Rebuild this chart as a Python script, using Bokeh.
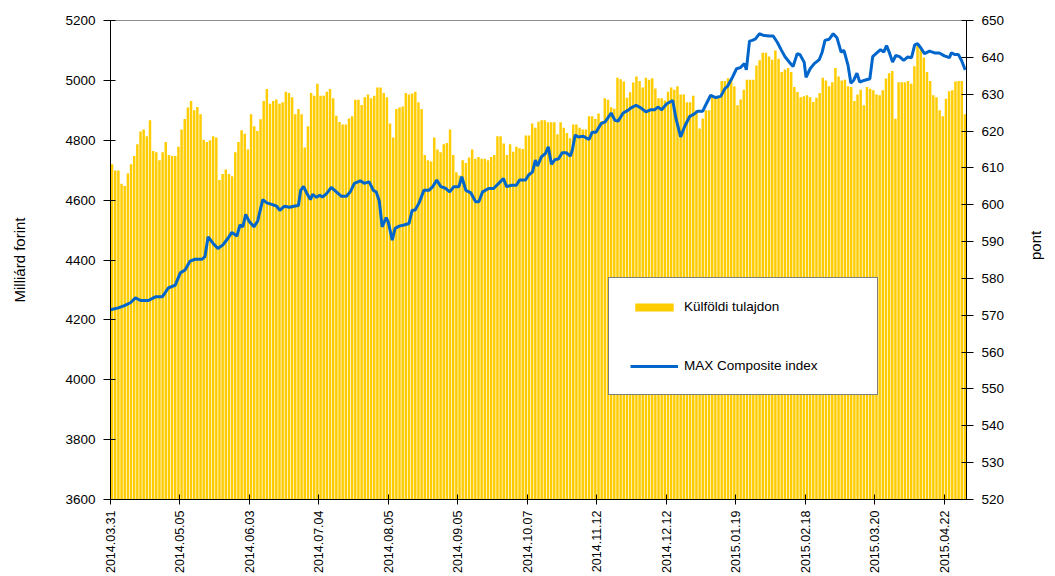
import math
from bokeh.plotting import figure
from bokeh.models import Range1d, LinearAxis, FixedTicker, Legend, LegendItem, ColumnDataSource
from bokeh.embed import file_html
from bokeh.resources import INLINE

# ---- data ----
tick_labels = ["2014.03.31", "2014.05.05", "2014.06.03", "2014.07.04", "2014.08.05",
               "2014.09.05", "2014.10.07", "2014.11.12", "2014.12.12", "2015.01.19",
               "2015.02.18", "2015.03.20", "2015.04.22"]
tick_days = [0, 22, 44, 66, 88, 110, 132, 154, 176, 198, 220, 242, 264]

# Külföldi tulajdon (Milliárd forint), one value per trading day
foreign_holdings = [
    4720, 4699, 4699, 4655, 4647, 4689, 4720, 4747, 4787, 4829,
    4836, 4813, 4867, 4764, 4760, 4733, 4760, 4794, 4751, 4747,
    4747, 4778, 4836, 4871, 4909, 4931, 4900, 4911, 4887, 4802,
    4794, 4800, 4813, 4809, 4667, 4687, 4702, 4687, 4680, 4760,
    4794, 4833, 4822, 4769, 4887, 4847, 4831, 4870, 4931, 4971,
    4922, 4931, 4936, 4922, 4927, 4962, 4958, 4944, 4887, 4904,
    4887, 4776, 4847, 4958, 4949, 4989, 4949, 4949, 4962, 4971,
    4940, 4882, 4861, 4853, 4853, 4873, 4880, 4935, 4935, 4918,
    4944, 4953, 4940, 4949, 4976, 4976, 4958, 4944, 4856, 4809,
    4904, 4909, 4913, 4958, 4953, 4956, 4962, 4927, 4904, 4751,
    4733, 4729, 4809, 4769, 4760, 4787, 4791, 4836, 4751, 4693,
    4682, 4733, 4724, 4742, 4769, 4738, 4744, 4738, 4738, 4733,
    4744, 4751, 4813, 4813, 4789, 4751, 4787, 4762, 4778, 4773,
    4771, 4816, 4816, 4856, 4842, 4862, 4867, 4867, 4860, 4860,
    4860, 4820, 4860, 4842, 4824, 4807, 4853, 4853, 4842, 4836,
    4836, 4880, 4880, 4871, 4889, 4864, 4940, 4935, 4910, 4905,
    5009, 5004, 4996, 4942, 4960, 4993, 5013, 4998, 4976, 5009,
    5002, 5007, 4973, 4940, 4940, 4933, 4962, 4976, 4969, 4980,
    4953, 4953, 4927, 4927, 4949, 4900, 4839, 4873, 4900, 4900,
    4947, 4947, 4947, 4998, 4998, 5007, 5006, 4980, 4917, 4936,
    4969, 5002, 5002, 5002, 5050, 5067, 5092, 5092, 5080, 5069,
    5100, 5072, 5028, 5036, 5041, 5028, 4978, 4961, 4944, 4947,
    4950, 4944, 4928, 4942, 4958, 5009, 5000, 4980, 4994, 5041,
    5013, 5000, 5002, 4980, 4978, 4931, 4953, 4969, 4917, 4978,
    4972, 4967, 4953, 4950, 4967, 5006, 5024, 5031, 4872, 4994,
    4994, 4994, 4998, 4989, 5047, 5122, 5106, 5076, 5028, 4998,
    4950, 4944, 4900, 4880, 4939, 4964, 4967, 4996, 4998, 4998,
    4887,
]

# MAX Composite index (pont): day position and value
max_day = [
    0.0, 2.5, 4.4, 6.3, 7.9, 9.5, 12.0, 14.2, 16.4, 18.3,
    20.5, 22.1, 23.6, 25.2, 26.8, 29.0, 29.9, 30.9, 32.5, 34.0,
    35.6, 37.2, 38.4, 40.0, 41.0, 41.9, 42.8, 43.8, 45.4, 46.6,
    48.2, 49.5, 51.0, 52.6, 53.6, 55.1, 56.7, 58.0, 59.5, 60.2,
    61.1, 62.1, 63.3, 64.0, 65.2, 66.2, 67.1, 68.4, 69.9, 71.5,
    73.1, 74.7, 75.9, 77.2, 79.1, 80.3, 81.9, 83.2, 84.1, 85.1,
    86.0, 87.3, 87.9, 89.2, 90.1, 91.4, 92.9, 94.5, 95.5, 96.4,
    97.7, 99.2, 100.8, 102.1, 103.3, 104.6, 106.2, 107.4, 108.7, 110.3,
    111.2, 112.5, 114.1, 115.6, 116.6, 117.8, 119.7, 121.3, 122.9, 124.4,
    125.4, 127.0, 128.5, 129.5, 131.4, 132.3, 133.6, 134.5, 135.2, 136.4,
    137.7, 138.6, 139.6, 140.8, 141.8, 143.0, 144.3, 145.6, 146.2, 147.1,
    148.1, 149.7, 151.5, 152.5, 153.7, 155.3, 156.6, 158.5, 159.7, 160.7,
    162.3, 163.8, 164.8, 166.4, 167.9, 169.5, 171.1, 172.3, 173.3, 174.5,
    176.1, 178.0, 179.0, 180.5, 181.8, 183.4, 184.6, 185.9, 187.5, 188.4,
    190.0, 191.6, 193.2, 194.5, 195.3, 196.9, 198.2, 199.4, 200.7, 201.3,
    202.3, 203.2, 204.2, 205.4, 207.0, 208.6, 209.8, 211.1, 212.3, 213.6,
    215.2, 216.1, 217.4, 218.3, 219.6, 220.2, 221.5, 222.8, 224.4, 225.3,
    226.2, 227.5, 228.8, 230.0, 231.3, 232.2, 233.5, 234.4, 235.3, 236.3,
    237.2, 238.8, 240.4, 241.3, 242.6, 243.8, 244.8, 245.7, 246.7, 247.6,
    248.6, 249.8, 251.1, 252.4, 253.6, 254.6, 255.5, 256.5, 257.7, 259.3,
    260.9, 262.4, 264.0, 265.6, 266.2, 267.2, 268.4, 269.4, 270.6,
]
max_index = [
    571.5, 572.0, 572.6, 573.4, 574.7, 574.0, 574.0, 575.0, 575.0, 577.4,
    578.2, 581.5, 582.3, 584.7, 585.2, 585.2, 585.9, 591.3, 589.5, 588.1,
    589.1, 590.9, 592.5, 591.5, 594.5, 594.0, 597.4, 595.6, 594.0, 595.6,
    601.4, 600.5, 600.1, 599.6, 598.5, 599.6, 599.3, 599.6, 599.8, 603.9,
    605.0, 603.2, 601.4, 602.8, 602.0, 602.6, 602.1, 603.0, 604.7, 603.5,
    602.3, 602.3, 603.5, 605.8, 606.5, 605.8, 606.2, 603.9, 603.5, 601.0,
    594.0, 596.5, 595.4, 590.4, 593.6, 594.2, 594.5, 594.9, 598.5, 598.5,
    600.5, 603.9, 603.9, 605.0, 606.7, 604.9, 604.4, 603.5, 604.9, 604.9,
    607.6, 603.9, 603.2, 600.8, 600.8, 603.5, 604.4, 604.4, 605.8, 607.1,
    604.9, 605.3, 605.3, 606.7, 606.7, 608.0, 608.9, 612.1, 610.5, 613.0,
    613.9, 615.7, 611.0, 612.3, 612.4, 614.1, 614.1, 613.2, 614.8, 618.9,
    618.4, 618.6, 617.7, 619.7, 619.7, 622.0, 622.5, 624.9, 622.9, 622.7,
    624.9, 625.6, 626.3, 627.0, 626.3, 625.2, 625.8, 625.8, 626.5, 625.8,
    627.4, 628.3, 623.5, 618.4, 621.3, 624.0, 624.5, 625.4, 625.4, 627.0,
    629.7, 629.1, 629.4, 631.5, 632.1, 634.6, 636.9, 637.2, 638.3, 636.6,
    644.4, 644.6, 645.0, 646.4, 645.9, 645.8, 645.8, 644.1, 642.1, 640.1,
    638.4, 637.5, 641.0, 640.7, 638.7, 634.6, 636.9, 638.3, 639.4, 641.4,
    644.6, 644.9, 646.4, 645.3, 641.4, 641.9, 637.8, 633.0, 633.8, 635.7,
    633.3, 633.8, 634.2, 640.2, 641.2, 642.1, 641.4, 643.2, 641.0, 638.7,
    640.5, 640.2, 639.2, 640.1, 639.9, 643.4, 643.7, 642.6, 641.0, 641.7,
    641.2, 641.2, 640.4, 639.9, 641.2, 640.8, 640.8, 639.2, 636.6,
]

left_ticks = [3600, 3800, 4000, 4200, 4400, 4600, 4800, 5000, 5200]
right_ticks = [520, 530, 540, 550, 560, 570, 580, 590, 600, 610, 620, 630, 640, 650]

# ---- figure ----
N = len(foreign_holdings)
FONT = "Liberation Sans"

p = figure(width=1055, height=576, output_backend="svg", toolbar_location=None,
           x_range=Range1d(0, N), y_range=Range1d(3600, 5200),
           min_border_left=110, min_border_right=85, min_border_top=20, min_border_bottom=76,
           background_fill_color="white", border_fill_color="white")
p.grid.visible = False
p.outline_line_color = "#8c8c8c"
p.outline_line_width = 1

bar_src = ColumnDataSource(dict(x=[i + 0.5 for i in range(N)], top=foreign_holdings))
bars = p.vbar(x="x", top="top", bottom=3600, width=0.78, source=bar_src,
              fill_color="#FFCC00", line_color=None)

p.extra_y_ranges = {"idx": Range1d(520, 650)}
line_src = ColumnDataSource(dict(x=max_day, y=max_index))
line = p.line(x="x", y="y", source=line_src, y_range_name="idx",
              line_color="#0066CC", line_width=3)

# x axis
xa = p.xaxis[0]
xa.ticker = FixedTicker(ticks=tick_days)
xa.major_label_overrides = {d: lab for d, lab in zip(tick_days, tick_labels)}
xa.major_label_orientation = math.pi / 2
xa.major_label_text_font = FONT
xa.major_label_text_font_size = "12.5px"
xa.major_label_text_color = "black"
xa.major_label_standoff = 6
xa.major_tick_in = 5
xa.major_tick_out = 5
xa.minor_tick_line_color = None
xa.axis_line_color = "black"
xa.major_tick_line_color = "black"

# left axis
ya = p.yaxis[0]
ya.ticker = FixedTicker(ticks=left_ticks)
ya.major_label_text_font = FONT
ya.major_label_text_font_size = "13.5px"
ya.major_label_text_color = "black"
ya.major_label_standoff = 8
ya.major_tick_in = 5
ya.major_tick_out = 7
ya.minor_tick_line_color = None
ya.axis_line_color = "black"
ya.major_tick_line_color = "black"
ya.axis_label = "Milliárd forint"
ya.axis_label_text_font = FONT
ya.axis_label_text_font_size = "15px"
ya.axis_label_text_font_style = "normal"
ya.axis_label_text_color = "black"
ya.axis_label_standoff = 34

# right axis
ra = LinearAxis(y_range_name="idx", ticker=FixedTicker(ticks=right_ticks))
ra.major_label_text_font = FONT
ra.major_label_text_font_size = "13.5px"
ra.major_label_text_color = "black"
ra.major_label_standoff = 8
ra.major_tick_in = 5
ra.major_tick_out = 7
ra.minor_tick_line_color = None
ra.axis_line_color = "black"
ra.major_tick_line_color = "black"
ra.axis_label = "pont"
ra.axis_label_text_font = FONT
ra.axis_label_text_font_size = "15px"
ra.axis_label_text_font_style = "normal"
ra.axis_label_text_color = "black"
ra.axis_label_standoff = 28
ra.axis_label_orientation = math.pi / 2
p.add_layout(ra, "right")

legend = Legend(items=[LegendItem(label="Külföldi tulajdon", renderers=[bars]),
                       LegendItem(label="MAX Composite index", renderers=[line])],
                location=(498, 104), orientation="vertical",
                glyph_width=48, glyph_height=10, label_height=14, label_width=172,
                spacing=44, padding=21, label_standoff=6, margin=0,
                border_line_color="black", border_line_width=1,
                background_fill_color="white", background_fill_alpha=1.0,
                label_text_font=FONT, label_text_font_size="13.5px", label_text_color="black")
p.add_layout(legend)

open("out.html", "w").write(file_html(p, INLINE))
